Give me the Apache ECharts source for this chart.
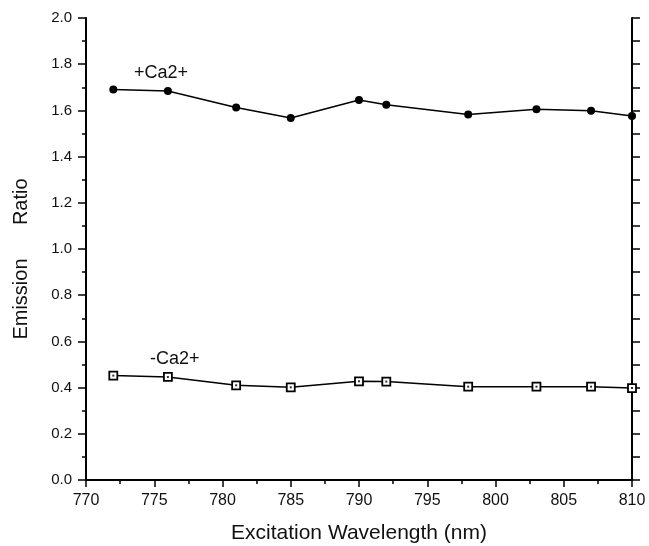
<!DOCTYPE html>
<html>
<head>
<meta charset="utf-8">
<script src="https://cdn.jsdelivr.net/npm/echarts@6/dist/echarts.min.js"></script>
<style>
  html, body { margin: 0; padding: 0; background: #fff; }
  #chart { width: 649px; height: 546px; }
</style>
</head>
<body>
<div id="chart"></div>
<script>
// wavelengths (nm)
var wavelengths = [772, 776, 781, 785, 790, 792, 798, 803, 807, 810]
// emission ratio with and without calcium
var withCa = [1.69, 1.684, 1.613, 1.567, 1.645, 1.624, 1.582, 1.605, 1.598, 1.576]
var withoutCa = [0.452, 0.446, 0.41, 0.401, 0.427, 0.426, 0.404, 0.404, 0.404, 0.398]

function pairs(ys) {
  return wavelengths.map(function (x, i) { return [x, ys[i]] })
}

var font = 'Liberation Sans, Arial, Helvetica, sans-serif'
var chart = echarts.init(document.getElementById('chart'))

chart.setOption({
  animation: false,
  grid: { left: 86, right: 17, top: 18, bottom: 66, outerBoundsMode: 'none' },
  xAxis: [{
    type: 'value',
    min: 770,
    max: 810,
    interval: 5,
    name: 'Excitation Wavelength (nm)',
    nameLocation: 'middle',
    nameGap: 43,
    nameTextStyle: { fontFamily: font, fontSize: 21, color: '#111' },
    axisLine: { lineStyle: { color: '#000', width: 2 } },
    axisTick: { inside: false, length: 7, lineStyle: { color: '#000', width: 1.5 } },
    minorTick: { show: true, splitNumber: 2, length: 4, lineStyle: { color: '#000', width: 1.5 } },
    axisLabel: { margin: 13, fontFamily: font, fontSize: 16, color: '#111' },
    splitLine: { show: false }
  }, {
    type: 'value',
    position: 'top',
    min: 770,
    max: 810,
    axisLine: { show: true, lineStyle: { color: '#000', width: 2 } },
    axisTick: { show: false },
    axisLabel: { show: false },
    splitLine: { show: false }
  }],
  yAxis: [{
    type: 'value',
    min: 0,
    max: 2,
    interval: 0.2,
    name: 'Emission      Ratio',
    nameLocation: 'middle',
    nameGap: 55,
    nameTextStyle: { fontFamily: font, fontSize: 20, color: '#111', padding: [0, 20, 0, 0] },
    axisLine: { show: true, lineStyle: { color: '#000', width: 2 } },
    axisTick: { inside: false, length: 8, lineStyle: { color: '#000', width: 1.5 } },
    minorTick: { show: true, splitNumber: 2, length: 4, lineStyle: { color: '#000', width: 1.5 } },
    axisLabel: {
      margin: 14, fontFamily: font, fontSize: 15, color: '#111',
      formatter: function (v) { return v.toFixed(1) }
    },
    splitLine: { show: false }
  }, {
    type: 'value',
    position: 'right',
    min: 0,
    max: 2,
    interval: 0.1,
    axisLine: { show: true, lineStyle: { color: '#000', width: 2 } },
    axisTick: { inside: false, length: 8, lineStyle: { color: '#000', width: 1.5 } },
    axisLabel: { show: false },
    splitLine: { show: false }
  }],
  series: [{
    name: '+Ca2+',
    type: 'line',
    data: pairs(withCa),
    symbol: 'circle',
    symbolSize: 8,
    lineStyle: { color: '#000', width: 1.5 },
    itemStyle: { color: '#000' },
    markPoint: {
      symbol: 'circle',
      symbolSize: 0,
      label: { show: true, position: 'inside', formatter: '+Ca2+', fontFamily: font, fontSize: 18, color: '#111' },
      data: [{ coord: [775.5, 1.762] }]
    }
  }, {
    name: '-Ca2+',
    type: 'line',
    data: pairs(withoutCa),
    symbol: 'rect',
    symbolSize: 8,
    lineStyle: { color: '#000', width: 1.5 },
    itemStyle: { color: '#fff', borderColor: '#000', borderWidth: 1.8 },
    z: 3,
    markPoint: {
      symbol: 'circle',
      symbolSize: 0,
      label: { show: true, position: 'inside', formatter: '-Ca2+', fontFamily: font, fontSize: 18, color: '#111' },
      data: [{ coord: [776.5, 0.524] }]
    }
  }, {
    // small dot in the middle of each hollow square
    type: 'scatter',
    data: pairs(withoutCa),
    symbol: 'rect',
    symbolSize: 2,
    itemStyle: { color: '#000' },
    z: 4,
    silent: true
  }]
})
</script>
</body>
</html>
